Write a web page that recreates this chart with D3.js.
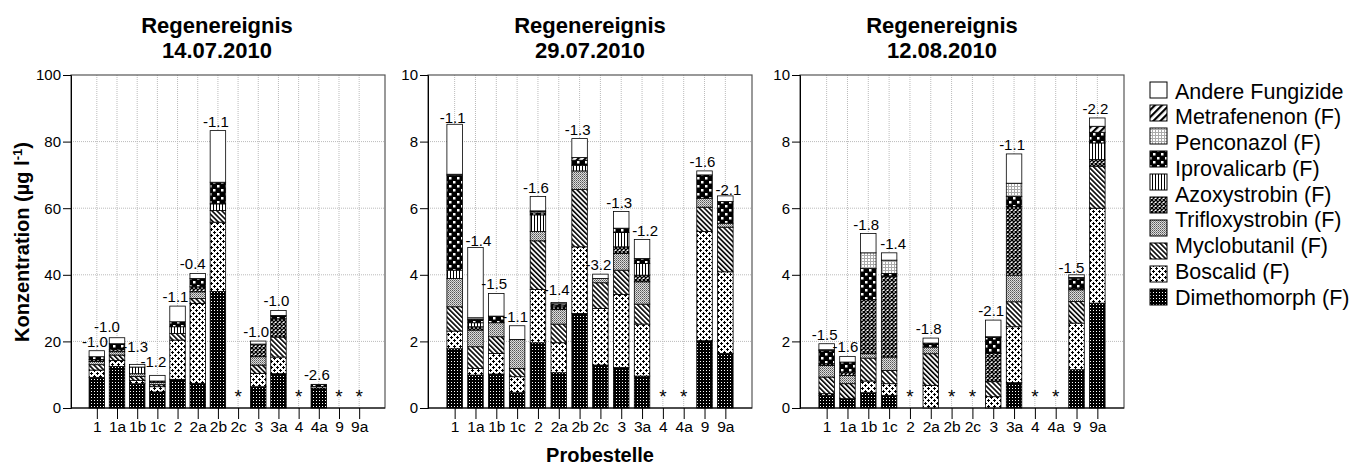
<!DOCTYPE html>
<html>
<head>
<meta charset="utf-8">
<script src="https://cdnjs.cloudflare.com/ajax/libs/d3/7.8.5/d3.min.js"></script>
<style>
body { margin: 0; background: #fff; }
text { font-family: "Liberation Sans", Arial, Helvetica, sans-serif; fill: #000; }
</style>
</head>
<body>
<div id="chart"></div>
<script>
// Probestellen (x-Achse)
const kategorien = ["1", "1a", "1b", "1c", "2", "2a", "2b", "2c", "3", "3a", "4", "4a", "9", "9a"];

// Stapelreihenfolge von unten nach oben
const serien = ["Dimethomorph", "Boscalid", "Myclobutanil", "Trifloxystrobin", "Azoxystrobin",
    "Unbenannt", "Iprovalicarb", "Penconazol", "Metrafenenon", "Andere"];

// Legende: 10 Felder, 9 Beschriftungen (wie im Original)
const legendeFelder = ["Andere", "Metrafenenon", "Penconazol", "Iprovalicarb", "Unbenannt",
    "Azoxystrobin", "Trifloxystrobin", "Myclobutanil", "Boscalid", "Dimethomorph"];
const legendeText = ["Andere Fungizide", "Metrafenenon (F)", "Penconazol (F)", "Iprovalicarb (F)",
    "Azoxystrobin (F)", "Trifloxystrobin (F)", "Myclobutanil (F)", "Boscalid (F)", "Dimethomorph (F)"];

// Konzentrationen je Probestelle in Reihenfolge von "serien" (null = keine Probe, *)
const werte_14_07 = [
    [9.2, 2.2, 1.6, 1.0, 0.6, 0, 0.8, 0, 0, 1.8],
    [12.5, 1.8, 1.6, 1.0, 0.6, 0, 1.8, 0, 0, 1.8],
    [7.3, 1.0, 1.2, 0.8, 0, 2.0, 0, 0, 0, 0.8],
    [4.8, 1.6, 0.6, 0.7, 0.4, 0, 0, 0, 0, 1.7],
    [8.6, 11.8, 2.0, 0, 0, 2.0, 1.5, 0, 0, 4.7],
    [7.4, 24.0, 1.5, 2.0, 1.5, 0, 2.5, 0, 0, 1.5],
    [35.0, 20.8, 3.5, 0, 0, 2.0, 6.5, 0, 0, 15.5],
    null,
    [6.4, 4.0, 2.5, 2.5, 3.8, 0, 0, 0, 0, 0.9],
    [10.3, 5.0, 6.0, 0, 5.5, 0, 1.0, 0, 0, 1.5],
    null,
    [6.0, 0.5, 0, 0, 0, 0, 0.6, 0, 0, 0],
    null,
    null
];
const werte_29_07 = [
    [1.78, 0.53, 0.73, 0.85, 0, 0.25, 2.85, 0.03, 0, 1.5],
    [0.99, 0.2, 0.65, 0.5, 0.1, 0.12, 0.1, 0.05, 0, 2.11],
    [1.02, 0.62, 0.5, 0.42, 0, 0, 0.2, 0, 0, 0.68],
    [0.46, 0.48, 0.25, 0.87, 0, 0, 0, 0, 0, 0.41],
    [1.96, 1.6, 1.46, 0.28, 0, 0.5, 0.06, 0.04, 0.02, 0.43],
    [1.06, 0.9, 0.56, 0.44, 0.08, 0, 0.05, 0, 0.04, 0.04],
    [2.84, 2.0, 1.72, 0.56, 0, 0.17, 0.15, 0, 0.08, 0.57],
    [1.29, 1.7, 0.77, 0.13, 0, 0, 0, 0, 0, 0.13],
    [1.22, 2.19, 0.73, 0.5, 0.2, 0.43, 0.13, 0, 0, 0.5],
    [0.96, 1.56, 0.6, 0.67, 0.2, 0.35, 0.15, 0, 0, 0.57],
    null,
    null,
    [2.02, 3.28, 0.73, 0.27, 0, 0, 0.7, 0, 0, 0.12],
    [1.64, 2.45, 1.34, 0.12, 0, 0, 0.65, 0, 0, 0.17]
];
const werte_12_08 = [
    [0.38, 0.05, 0.5, 0.35, 0.05, 0, 0.4, 0.02, 0, 0.18],
    [0.28, 0, 0.45, 0.25, 0.1, 0, 0.3, 0, 0, 0.17],
    [0.46, 0.35, 0.69, 0.13, 1.63, 0, 0.93, 0.47, 0, 0.58],
    [0.38, 0.35, 0.4, 0.4, 2.43, 0, 0.08, 0.4, 0, 0.22],
    null,
    [0, 0.68, 0.95, 0.2, 0, 0, 0.12, 0, 0, 0.15],
    null,
    null,
    [0, 0.34, 0.45, 0, 0.85, 0, 0.48, 0, 0.02, 0.5],
    [0.76, 1.68, 0.75, 0.8, 2.06, 0, 0.3, 0.4, 0, 0.88],
    null,
    null,
    [1.15, 1.4, 0.65, 0.35, 0.05, 0, 0.3, 0.02, 0, 0.08],
    [3.15, 2.85, 1.26, 0, 0.2, 0.5, 0.32, 0, 0.18, 0.25]
];

// Beschriftungen über den Balken
const labels_14_07 = ["-1.0", "-1.0", "-1.3", "-1.2", "-1.1", "-0.4", "-1.1", null, "-1.0", "-1.0", null, "-2.6", null, null];
const labels_29_07 = ["-1.1", "-1.4", "-1.5", "-1.1", "-1.6", "-1.4", "-1.3", "-3.2", "-1.3", "-1.2", null, null, "-1.6", "-2.1"];
const labels_12_08 = ["-1.5", "-1.6", "-1.8", "-1.4", null, "-1.8", null, null, "-2.1", "-1.1", null, null, "-1.5", "-2.2"];

const titel = ["14.07.2010", "29.07.2010", "12.08.2010"];

// Layout
const width = 1368;
const height = 474;
const plotTop = 75, plotBottom = 408;
const barW = 15.5;

const panels = [
    { werte: werte_14_07, labels: labels_14_07, max: 100, ticks: [0, 20, 40, 60, 80, 100], x0: 71, x1: 385, tx: 217,
      versatz: { "1a": [-8, -2], "1b": [0, -8], "1c": [-2, -4], "2a": [-3, 0] } },
    { werte: werte_29_07, labels: labels_29_07, max: 10, ticks: [0, 2, 4, 6, 8, 10], x0: 428, x1: 752, tx: 590,
      versatz: { "1": [0, 3], "1a": [5, 3], "2a": [0, -3], "3a": [5, 0], "9a": [5, 3] } },
    { werte: werte_12_08, labels: labels_12_08, max: 10, ticks: [0, 2, 4, 6, 8, 10], x0: 800, x1: 1124, tx: 942,
      versatz: { "1c": [6, 0], "9": [-3, 2] } }
];

const svg = d3.select("#chart")
    .append("svg")
    .attr("width", width)
    .attr("height", height);

// Schraffuren
const defs = svg.append("defs");

function muster(id, w, h, transform) {
    const p = defs.append("pattern")
        .attr("id", id)
        .attr("patternUnits", "userSpaceOnUse")
        .attr("width", w)
        .attr("height", h);
    if (transform) p.attr("patternTransform", transform);
    return p;
}

let p;
p = muster("m-dime", 3, 3);
p.append("rect").attr("width", 3).attr("height", 3).attr("fill", "#000");
p.append("rect").attr("x", 1).attr("y", 1).attr("width", 1).attr("height", 1).attr("fill", "#fff");

p = muster("m-bosc", 6, 6);
p.append("rect").attr("width", 6).attr("height", 6).attr("fill", "#fff");
p.append("path").attr("d", "M0,1.5h3M1.5,0v3M3,4.5h3M4.5,3v3")
    .attr("stroke", "#000").attr("stroke-width", 1);

p = muster("m-mycl", 3.5, 3.5, "rotate(-45)");
p.append("rect").attr("width", 3.5).attr("height", 3.5).attr("fill", "#fff");
p.append("rect").attr("width", 1.6).attr("height", 3.5).attr("fill", "#000");

p = muster("m-trif", 2, 2);
p.append("rect").attr("width", 2).attr("height", 2).attr("fill", "#ddd");
p.append("rect").attr("width", 1).attr("height", 1).attr("fill", "#555");
p.append("rect").attr("x", 1).attr("y", 1).attr("width", 1).attr("height", 1).attr("fill", "#888");

p = muster("m-azox", 4, 4);
p.append("rect").attr("width", 4).attr("height", 4).attr("fill", "#fff");
p.append("path").attr("d", "M0,0L4,4M4,0L0,4").attr("stroke", "#000").attr("stroke-width", 1.4);

p = muster("m-vert", 3, 3);
p.append("rect").attr("width", 3).attr("height", 3).attr("fill", "#fff");
p.append("rect").attr("width", 1).attr("height", 3).attr("fill", "#000");

p = muster("m-ipro", 8, 8);
p.append("rect").attr("width", 8).attr("height", 8).attr("fill", "#000");
p.append("rect").attr("x", 1).attr("y", 1).attr("width", 2.5).attr("height", 2.5).attr("fill", "#fff");
p.append("rect").attr("x", 5).attr("y", 5).attr("width", 2.5).attr("height", 2.5).attr("fill", "#fff");

p = muster("m-penc", 3, 3);
p.append("rect").attr("width", 3).attr("height", 3).attr("fill", "#fff");
p.append("rect").attr("width", 3).attr("height", 1).attr("fill", "#aaa");
p.append("rect").attr("width", 1).attr("height", 3).attr("fill", "#aaa");

p = muster("m-metr", 5, 5, "rotate(45)");
p.append("rect").attr("width", 5).attr("height", 5).attr("fill", "#fff");
p.append("rect").attr("width", 2.2).attr("height", 5).attr("fill", "#000");

const fuellung = d3.scaleOrdinal()
    .domain(serien)
    .range(["url(#m-dime)", "url(#m-bosc)", "url(#m-mycl)", "url(#m-trif)", "url(#m-azox)",
        "url(#m-vert)", "url(#m-ipro)", "url(#m-penc)", "url(#m-metr)", "#fff"]);

const stack = d3.stack().keys(serien);

panels.forEach((pan, i) => {
    const g = svg.append("g");

    const x = d3.scalePoint()
        .domain(kategorien)
        .range([pan.x0, pan.x1])
        .padding(1.28);

    const y = d3.scaleLinear()
        .domain([0, pan.max])
        .range([plotBottom, plotTop]);

    // Gitternetz
    g.append("g")
        .selectAll("line")
        .data(kategorien)
        .join("line")
        .attr("x1", d => x(d)).attr("x2", d => x(d))
        .attr("y1", plotTop).attr("y2", plotBottom)
        .attr("stroke", "#bbb")
        .attr("stroke-dasharray", "1,1");
    g.append("g")
        .selectAll("line")
        .data(pan.ticks.slice(1, -1))
        .join("line")
        .attr("x1", pan.x0).attr("x2", pan.x1)
        .attr("y1", d => y(d)).attr("y2", d => y(d))
        .attr("stroke", "#bbb")
        .attr("stroke-dasharray", "1,1");

    // Rahmen
    g.append("rect")
        .attr("x", pan.x0).attr("y", plotTop)
        .attr("width", pan.x1 - pan.x0).attr("height", plotBottom - plotTop)
        .attr("fill", "none")
        .attr("stroke", "#555")
        .attr("stroke-width", 1.2);

    const rows = kategorien
        .map((k, j) => ({ k, j, v: pan.werte[j] }))
        .filter(r => r.v !== null)
        .map(r => {
            const o = { kat: r.k, idx: r.j };
            serien.forEach((s, n) => o[s] = r.v[n]);
            return o;
        });

    const layers = stack(rows);

    g.append("g")
        .selectAll("g")
        .data(layers)
        .join("g")
        .attr("fill", d => fuellung(d.key))
        .selectAll("rect")
        .data(d => d.filter(s => s[1] - s[0] > 0))
        .join("rect")
        .attr("x", d => x(d.data.kat) - barW / 2)
        .attr("y", d => y(d[1]))
        .attr("width", barW)
        .attr("height", d => y(d[0]) - y(d[1]))
        .attr("stroke", "#000")
        .attr("stroke-width", 0.8);

    // Werte über den Balken
    g.append("g")
        .selectAll("text")
        .data(rows.filter(r => pan.labels[r.idx] !== null))
        .join("text")
        .attr("x", d => x(d.kat) - 2 + (pan.versatz[d.kat] ? pan.versatz[d.kat][0] : 0))
        .attr("y", d => y(d3.sum(serien, s => d[s])) - 4 + (pan.versatz[d.kat] ? pan.versatz[d.kat][1] : 0))
        .attr("text-anchor", "middle")
        .attr("font-size", 15)
        .text(d => pan.labels[d.idx]);

    // fehlende Proben
    g.append("g")
        .selectAll("text")
        .data(kategorien.filter((k, j) => pan.werte[j] === null))
        .join("text")
        .attr("x", d => x(d))
        .attr("y", 403)
        .attr("text-anchor", "middle")
        .attr("font-size", 19)
        .attr("fill", "#000")
        .text("*");

    // Achsen
    g.append("g")
        .attr("transform", `translate(${pan.x0},0)`)
        .call(d3.axisLeft(y).tickValues(pan.ticks).tickSize(8).tickPadding(2))
        .call(a => a.selectAll("text").attr("font-size", 15).attr("font-family", null))
        .call(a => a.selectAll("line,path").attr("stroke", "#000"));

    g.append("g")
        .attr("transform", `translate(0,${plotBottom})`)
        .call(d3.axisBottom(x).tickSizeInner(11).tickSizeOuter(0).tickPadding(2))
        .call(a => a.select(".domain").attr("d", `M${pan.x0},0H${pan.x1}`))
        .call(a => a.selectAll("text").attr("font-size", 15.5).attr("font-family", null))
        .call(a => a.selectAll("line,path").attr("stroke", "#000"));

    // Titel
    const t = g.append("text")
        .attr("x", pan.tx)
        .attr("text-anchor", "middle")
        .attr("font-size", 22)
        .attr("font-weight", "bold");
    t.append("tspan").attr("x", pan.tx).attr("y", 33).text("Regenereignis");
    t.append("tspan").attr("x", pan.tx).attr("y", 58).text(titel[i]);
});

// Achsentitel
const yl = svg.append("text")
    .attr("transform", "translate(29,242) rotate(-90)")
    .attr("text-anchor", "middle")
    .attr("font-size", 20)
    .attr("font-weight", "bold");
yl.append("tspan").text("Konzentration (µg l");
yl.append("tspan").attr("font-size", 13).attr("dy", -7).text("-1");
yl.append("tspan").attr("dy", 7).text(")");

svg.append("text")
    .attr("x", 600)
    .attr("y", 462)
    .attr("text-anchor", "middle")
    .attr("font-size", 20)
    .attr("font-weight", "bold")
    .text("Probestelle");

// Legende
const legFeld = d3.scalePoint().domain(legendeFelder).range([90, 297]);
const legText = d3.scalePoint().domain(legendeText).range([91, 297]);

svg.append("g")
    .selectAll("rect")
    .data(legendeFelder)
    .join("rect")
    .attr("x", 1150)
    .attr("y", d => legFeld(d) - 8)
    .attr("width", 17)
    .attr("height", 16)
    .attr("fill", d => fuellung(d))
    .attr("stroke", "#000")
    .attr("stroke-width", 1);

svg.append("g")
    .selectAll("text")
    .data(legendeText)
    .join("text")
    .attr("x", 1175)
    .attr("y", d => legText(d))
    .attr("dy", "0.36em")
    .attr("font-size", 21.5)
    .text(d => d);
</script>
</body>
</html>
